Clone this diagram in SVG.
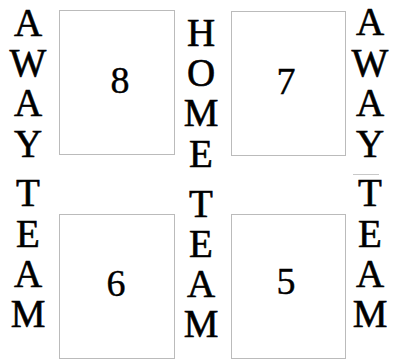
<svg xmlns="http://www.w3.org/2000/svg" width="395" height="359" viewBox="0 0 395 359">
<style>
.box{fill:#fff;stroke:#bbbbbb;stroke-width:1}
.lbl{font-family:"Liberation Serif","Times New Roman",serif;font-size:39px;fill:#000;stroke:#000;stroke-width:0.6;text-anchor:middle}
.num{font-family:"Liberation Serif","Times New Roman",serif;font-size:38px;fill:#000;stroke:#000;stroke-width:0.4;text-anchor:middle}
</style>
<rect width="395" height="359" fill="#fff"/>
<g id="box8"><rect class="box" x="59.5" y="10.5" width="115" height="144"/><text class="num" x="120" y="93">8</text></g>
<g id="box7"><rect class="box" x="231.5" y="11.5" width="114" height="144"/><text class="num" x="286" y="94">7</text></g>
<g id="box6"><rect class="box" x="59.5" y="214.5" width="115" height="144"/><text class="num" x="116" y="296">6</text></g>
<g id="box5"><rect class="box" x="231.5" y="214.5" width="114" height="144"/><text class="num" x="286" y="294">5</text></g>
<g id="away-left">
<text class="lbl" x="28" y="36">A</text><text class="lbl" x="28" y="76">W</text><text class="lbl" x="28" y="116">A</text><text class="lbl" x="28" y="157">Y</text>
<text class="lbl" x="28" y="206">T</text><text class="lbl" x="28" y="247">E</text><text class="lbl" x="28" y="287">A</text><text class="lbl" x="28" y="327">M</text>
</g>
<g id="home">
<text class="lbl" x="201" y="46">H</text><text class="lbl" x="201" y="86">O</text><text class="lbl" x="201" y="126">M</text><text class="lbl" x="201" y="167">E</text>
<text class="lbl" x="201" y="217">T</text><text class="lbl" x="201" y="257">E</text><text class="lbl" x="201" y="297">A</text><text class="lbl" x="201" y="337">M</text>
</g>
<g id="away-right">
<text class="lbl" x="370" y="35">A</text><text class="lbl" x="370" y="76">W</text><text class="lbl" x="370" y="116">A</text><text class="lbl" x="370" y="157">Y</text>
<text class="lbl" x="370" y="206">T</text><text class="lbl" x="370" y="247">E</text><text class="lbl" x="370" y="287">A</text><text class="lbl" x="370" y="327">M</text>
</g>
<g id="connectors"><line x1="353" y1="174.5" x2="379" y2="174.5" stroke="#c8c8c8" stroke-width="1"/></g>
</svg>
